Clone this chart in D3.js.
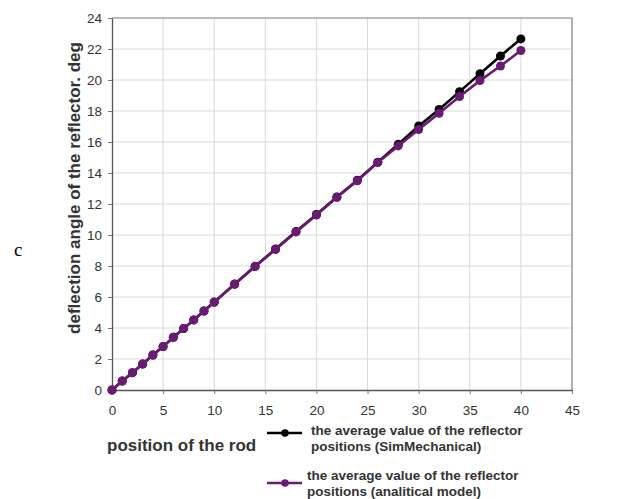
<!DOCTYPE html>
<html><head><meta charset="utf-8">
<script src="https://cdn.jsdelivr.net/npm/d3@7"></script>
<style>body{margin:0;background:#fff}svg{display:block}</style>
</head><body>
<script>
const positions = [0,1,2,3,4,5,6,7,8,9,10,12,14,16,18,20,22,24,26,28,30,32,34,36,38,40];
const simMechanical = [0,0.58,1.12,1.68,2.26,2.8,3.4,3.96,4.52,5.1,5.68,6.84,7.98,9.1,10.22,11.32,12.45,13.53,14.7,15.85,17.03,18.1,19.25,20.4,21.55,22.65];
const analytical = [0,0.58,1.12,1.68,2.26,2.8,3.4,3.96,4.52,5.1,5.66,6.82,7.96,9.07,10.2,11.29,12.43,13.5,14.67,15.75,16.8,17.85,18.93,19.96,20.9,21.9];
const xTicks = [0,5,10,15,20,25,30,35,40,45];
const yTicks = [0,2,4,6,8,10,12,14,16,18,20,22,24];
const seriesNames = ["the average value of the reflector|positions (SimMechanical)","the average value of the reflector|positions (analitical model)"];
const seriesColors = ["#000000","#6b1a73"];

const W=621,H=499;
const svg=d3.select("body").append("svg").attr("width",W).attr("height",H);
const x=d3.scaleLinear().domain([0,45]).range([112,572]);
const y=d3.scaleLinear().domain([0,24]).range([390,18]);

// grid
svg.append("g").selectAll("line").data(xTicks.slice(1)).join("line")
  .attr("x1",d=>x(d)).attr("x2",d=>x(d)).attr("y1",y(0)).attr("y2",y(24))
  .attr("stroke","#d9d9d9").attr("stroke-width",1);
svg.append("g").selectAll("line").data(yTicks.slice(1)).join("line")
  .attr("x1",x(0)).attr("x2",x(45)).attr("y1",d=>y(d)).attr("y2",d=>y(d))
  .attr("stroke","#d9d9d9").attr("stroke-width",1);
// border top/right
svg.append("path").attr("d",`M${x(0)},${y(24)}H${x(45)}V${y(0)}`).attr("fill","none").attr("stroke","#8a8a8a").attr("stroke-width",1.2);

const font="Arial, 'Liberation Sans', sans-serif";
const xAxis=svg.append("g").attr("transform",`translate(0,${y(0)})`)
  .call(d3.axisBottom(x).tickValues(xTicks).tickSize(4).tickPadding(11).tickSizeOuter(0));
const yAxis=svg.append("g").attr("transform",`translate(${x(0)},0)`)
  .call(d3.axisLeft(y).tickValues(yTicks).tickSize(4).tickPadding(6).tickSizeOuter(0));
[xAxis,yAxis].forEach(a=>{
  a.select(".domain").attr("stroke","#555").attr("stroke-width",1.3);
  a.selectAll(".tick line").attr("stroke","#777");
  a.selectAll("text").attr("font-family",font).attr("font-size",13.5).attr("fill","#333");
});

const line=d3.line().x(d=>x(d[0])).y(d=>y(d[1]));
[simMechanical,analytical].forEach((vals,i)=>{
  const pts=positions.map((p,j)=>[p,vals[j]]);
  svg.append("path").datum(pts).attr("d",line).attr("fill","none")
    .attr("stroke",seriesColors[i]).attr("stroke-width",2.6);
  svg.append("g").selectAll("circle").data(pts).join("circle")
    .attr("cx",d=>x(d[0])).attr("cy",d=>y(d[1])).attr("r",4.5).attr("fill",seriesColors[i]);
});

// axis titles
svg.append("text").attr("transform",`translate(80,188) rotate(-90)`).attr("text-anchor","middle")
  .attr("font-family",font).attr("font-weight","bold").attr("font-size",17).attr("fill","#333")
  .text("deflection angle of the reflector. deg");
svg.append("text").attr("x",107).attr("y",451).attr("font-family",font).attr("font-weight","bold")
  .attr("font-size",17).attr("fill","#333").text("position of the rod");
svg.append("text").attr("x",14).attr("y",256).attr("font-family","'Liberation Serif', 'DejaVu Serif', serif")
  .attr("font-size",19).attr("fill","#000").text("c");

// legend
const legY=[433,483];
const legTextY=[435,480];
seriesNames.forEach((nm,i)=>{
  const g=svg.append("g");
  g.append("line").attr("x1",267).attr("x2",302).attr("y1",legY[i]).attr("y2",legY[i])
    .attr("stroke",seriesColors[i]).attr("stroke-width",2.5);
  g.append("circle").attr("cx",285).attr("cy",legY[i]).attr("r",3.8).attr("fill",seriesColors[i]);
  const parts=nm.split("|");
  parts.forEach((t,k)=>{
    g.append("text").attr("x",i===0?311:307).attr("y",legTextY[i]+k*15.5)
      .attr("font-family",font).attr("font-weight","bold").attr("font-size",13.5).attr("fill","#333").text(t);
  });
});
</script>
</body></html>
